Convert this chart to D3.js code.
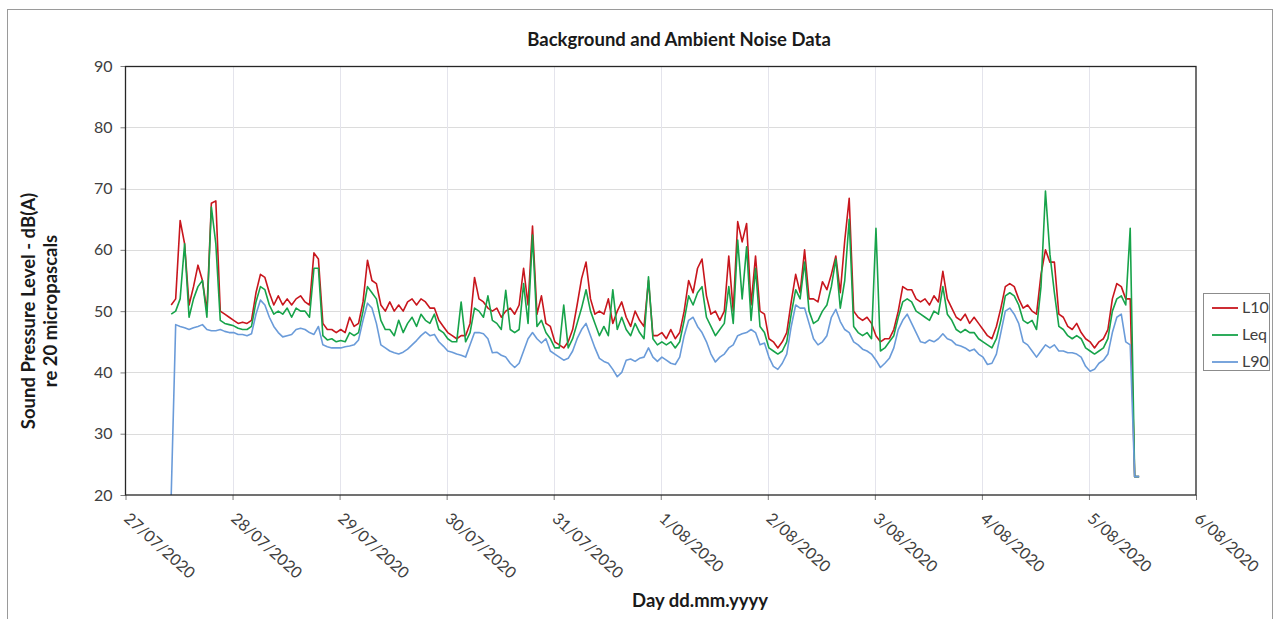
<!DOCTYPE html>
<html><head><meta charset="utf-8">
<script src="https://cdn.jsdelivr.net/npm/d3@7"></script>
<style>html,body{margin:0;padding:0;background:#fff;} svg{display:block;}</style>
</head><body>
<svg id="chart" width="1274" height="619"></svg>
<script>
// ---- data ----
const seriesNames = ["L10", "Leq", "L90"];
const startTime = "2020-07-27T10:15:00";
const stepHours = 1;
const l10 = [51,52,64.8,61,51,54,57.5,55,50,67.6,68,50,49.5,49,48.5,48,48.2,48,48.5,53,56,55.5,53,51,
52.5,51,52,51,52,52.5,51.5,51,59.5,58.5,48,47,47,46.5,47,46.5,49,47.5,48,51.5,58.3,55,54.5,51,
50,51.5,50,51,50,51.5,52,51,52,51.5,50.5,50.5,48.5,47.5,46.5,46,45.5,46,46,48,55.5,52,51.5,50.5,
50,50.5,49,50,50.5,49.5,51,57,51,63.9,49.5,52.5,48,47.5,45,44.5,44,45,47,51,55.3,58,52,49.5,
50,49.5,52,48,50,51.5,49,47.5,50,48.5,47.5,55,46,46,46.5,45.5,47,45.5,46.5,50,55,53,57,58.5,
52.5,49.5,50,48.5,50,59,50,64.6,61.3,64.3,51,59,50,49.5,45.5,45,44,45,46.5,51.5,56,53,60,52,
52,51.5,54.8,53.5,56,59,53,61.5,68.4,50,49,48.5,49,48,46,45,45.5,45.5,47,50,54,53.5,53.5,52,
51.5,52,51,52.5,51.5,56.5,52,50.5,49,48.5,49.5,48,49,48,47,46,45.5,47.5,50.5,54,54.5,54,52,50.5,
51,50,49.5,56,60,58,58,49.5,49,47.5,47,48,46.5,45.5,45,44,45,45.5,47,52,54.5,54,52,52,23,23];
const leq = [49.5,50,52,61,49,52,54,55,49,67,61,48.5,48,47.8,47.6,47.2,47,47,47.5,51.5,54,53.5,51,49.5,
50,49.5,50.5,49,50.5,50,50,49,57,57,46,45.3,45.5,45,45.2,45,46.5,46,46.5,50,54,53,52,48.5,
47,47,46,48.5,46.5,48,49,47.5,49.5,48.5,48,49.5,47,46.5,45.5,45,45,51.5,45,46.5,50.5,50,49,52.5,
48.5,48,47,53.4,47,46.5,47,54.5,48,62.4,47.5,48.5,46.5,45.5,44,44,51,44,45.5,48,50.5,53.5,50,48,
46,47.5,46,53.5,47,49,47,46,48,46.5,45.5,55.6,45.5,44.5,45,44.5,45,44,45,48.5,52.5,51,53,54,
49,47.5,46,47,48,54,48,61.6,52,60.5,48.5,57,47.5,46.5,44,43.5,43,43.5,45,49.5,53.5,52,58,50,
48,48.5,50,51,54,58.5,50.5,55,65,47.5,46.5,46,46.5,45.5,63.5,43.5,44,45,46,49,51.5,52,51.5,50,
49.5,49,48.5,50,49.5,54,49.5,48.5,47,46.5,47,46.5,46.5,45.5,45,44.5,44,45.5,48.5,52.5,53,52.5,51,48.5,
48,48.5,47,54,69.6,59.3,53,47.5,47,46,45.5,46,45.5,44,43.5,43,43.5,44,45.5,50,52,52.5,51,63.5,23,23];
const l90 = [20,47.8,47.5,47.3,47,47.3,47.5,47.8,47,46.8,46.8,47,46.7,46.5,46.5,46.2,46.2,46,46.3,49.5,51.8,51,49,47.5,
46.5,45.8,46,46.2,47,47.2,47,46.5,46.2,47.5,44.5,44.2,44,44,44,44.2,44.3,44.5,45.3,48.5,51.3,50.5,48,44.5,
44,43.5,43.2,43,43.3,43.8,44.5,45.2,46,46.6,46,46.2,45,44.3,43.5,43.3,43,42.8,42.5,44.5,46.5,46.5,46.3,45.5,
43.2,43.3,42.8,42.5,41.5,40.8,41.5,43.5,45.5,46.5,45.5,44.8,45.5,43.5,43,42.5,42,42.3,43.5,45.5,47,48,46,44,
42.3,41.8,41.5,40.5,39.3,40,42,42.2,41.8,42.3,42.5,44,42.5,41.8,42.5,42,41.5,41.3,42.5,46,48.5,49,47.5,46.5,
45,43,41.7,42.5,43,44,44.5,46,46.3,46.5,47,46.5,44.5,44.8,42.5,41,40.5,41.5,43,47.5,51,50.5,50.5,48,
45.5,44.5,45,46,49,50.3,48.3,47,46.5,45,44.5,43.8,43.5,43,42,40.8,41.5,42.3,44,47,48.5,49.5,48,46.5,
45,44.8,45.3,45,45.5,46.3,45.5,45.2,44.5,44.3,44,43.5,43.8,43,42.5,41.3,41.5,43,46.5,50,50.5,49.5,48,45,
44.5,43.5,42.5,43.5,44.5,44,44.5,43.5,43.5,43.2,43.2,43,42.5,41,40.2,40.5,41.5,42,43,46.5,49,49.5,45,44.5,23,23];
const yTicks = [20, 30, 40, 50, 60, 70, 80, 90];
const xDomain = ["2020-07-27T00:00:00", "2020-08-06T00:00:00"];

// ---- styles ----
const colors = ["#c8161d", "#17a34a", "#6a9bd9"];
const W = 1274, H = 619;
const pLeft = 125.5, pRight = 1196, pTop = 66, pBottom = 495;
const fontFamily = "Lato, 'Open Sans', sans-serif";

const svg = d3.select("#chart");
svg.append("rect").attr("x", 0).attr("y", 0).attr("width", W).attr("height", H).attr("fill", "#fff");
svg.append("rect").attr("x", 7.5).attr("y", 9.5).attr("width", W - 9).attr("height", H)
  .attr("fill", "none").attr("stroke", "#9a9a9a").attr("stroke-width", 1);

const parse = d3.isoParse;
const t0 = parse(startTime);
const x = d3.scaleTime().domain(xDomain.map(parse)).range([pLeft, pRight]);
const y = d3.scaleLinear().domain([20, 90]).range([pBottom, pTop]);

// grid
const days = d3.timeDay.range(parse(xDomain[0]), d3.timeDay.offset(parse(xDomain[1]), 1));
svg.append("g").selectAll("line").data(yTicks.slice(1, -1)).join("line")
  .attr("x1", pLeft).attr("x2", pRight).attr("y1", d => Math.round(y(d)) + 0.5).attr("y2", d => Math.round(y(d)) + 0.5)
  .attr("stroke", "#dcdcdc").attr("stroke-width", 1);
svg.append("g").selectAll("line").data(days.slice(1, -1)).join("line")
  .attr("x1", d => Math.round(x(d)) + 0.5).attr("x2", d => Math.round(x(d)) + 0.5).attr("y1", pTop).attr("y2", pBottom)
  .attr("stroke", "#e4e4ec").attr("stroke-width", 1);

// series
const seriesData = [l10, leq, l90].map(arr => arr.map((v, i) => ({ t: d3.timeHour.offset(t0, i * stepHours), v })));
const line = d3.line().x(d => x(d.t)).y(d => y(Math.max(20, d.v)));
svg.append("clipPath").attr("id", "clip").append("rect")
  .attr("x", pLeft).attr("y", pTop).attr("width", pRight - pLeft).attr("height", pBottom - pTop);
const gSeries = svg.append("g").attr("clip-path", "url(#clip)");
seriesData.forEach((data, i) => {
  gSeries.append("path").datum(data).attr("d", line)
    .attr("fill", "none").attr("stroke", colors[i]).attr("stroke-width", 1.6)
    .attr("stroke-linejoin", "round");
});

// axes
const yAxis = d3.axisLeft(y).tickValues(yTicks).tickSize(5).tickPadding(8);
const gy = svg.append("g").attr("transform", `translate(${pLeft},0)`).call(yAxis);
gy.select(".domain").remove();
gy.selectAll(".tick line").attr("stroke", "#7f7f7f");
gy.selectAll(".tick text").attr("font-family", fontFamily).attr("font-size", 16).attr("fill", "#404040");

const xAxis = d3.axisBottom(x).ticks(d3.timeDay.every(1)).tickSize(5).tickFormat(d3.timeFormat("%-d/%m/%Y"));
const gx = svg.append("g").attr("transform", `translate(0,${pBottom})`).call(xAxis);
gx.select(".domain").remove();
gx.selectAll(".tick line").attr("stroke", "#7f7f7f");
gx.selectAll(".tick text").attr("font-family", fontFamily).attr("font-size", 16).attr("fill", "#404040")
  .attr("text-anchor", "start").attr("dy", null).attr("y", null)
  .attr("transform", "translate(-3,25) rotate(42)");

// plot frame
svg.append("rect").attr("x", pLeft).attr("y", pTop + 0.5).attr("width", pRight - pLeft).attr("height", pBottom - pTop - 0.5)
  .attr("fill", "none").attr("stroke", "#262626").attr("stroke-width", 1.3);

// titles
svg.append("text").attr("x", 679).attr("y", 46).attr("text-anchor", "middle")
  .attr("font-family", fontFamily).attr("font-weight", "bold").attr("font-size", 18.5).attr("fill", "#1a1a1a")
  .text("Background and Ambient Noise Data");
svg.append("text").attr("x", 700).attr("y", 607).attr("text-anchor", "middle")
  .attr("font-family", fontFamily).attr("font-weight", "bold").attr("font-size", 18.5).attr("fill", "#1a1a1a")
  .text("Day dd.mm.yyyy");
const yl = svg.append("text").attr("transform", "translate(35,311) rotate(-90)").attr("text-anchor", "middle")
  .attr("font-family", fontFamily).attr("font-weight", "bold").attr("font-size", 18.5).attr("fill", "#1a1a1a");
yl.append("tspan").attr("x", 0).attr("dy", 0).text("Sound Pressure Level - dB(A)");
yl.append("tspan").attr("x", 0).attr("dy", 22).text("re 20 micropascals");

// legend
const lg = svg.append("g");
lg.append("rect").attr("x", 1203.5).attr("y", 293.5).attr("width", 66).attr("height", 77)
  .attr("fill", "#fff").attr("stroke", "#8c8c8c");
seriesNames.forEach((n, i) => {
  const yy = 308 + i * 27;
  lg.append("line").attr("x1", 1212).attr("x2", 1238).attr("y1", yy).attr("y2", yy)
    .attr("stroke", colors[i]).attr("stroke-width", 1.8);
  lg.append("text").attr("x", 1242).attr("y", yy + 5).attr("font-family", fontFamily).attr("font-size", 16)
    .attr("fill", "#404040").text(n);
});
</script>
</body></html>
